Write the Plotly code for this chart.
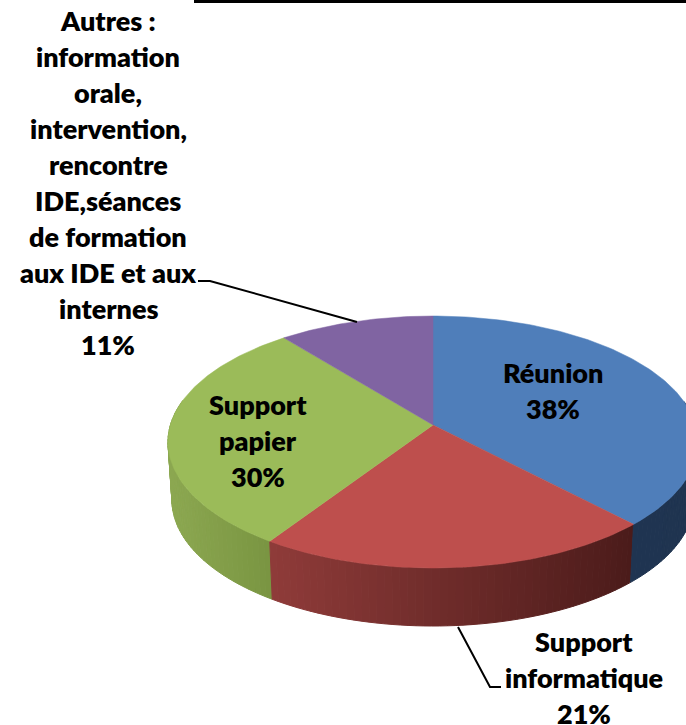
import math
import plotly.graph_objects as go

# ---- data ----
categories = ["Réunion", "Support informatique", "Support papier", "Autres"]
values = [37.9, 21.4, 29.9, 10.8]
top_colors = ["#4F7EBA", "#BE4F4D", "#9BBB59", "#8064A2"]
wall_left = ["#1F3654", "#8F3B39", "#8CA851", "#6A5488"]
wall_right = ["#1F3450", "#4B1B1A", "#77923F", "#6A5488"]

label_reunion = ["Réunion", "38%"]
label_papier = ["Support", "papier", "30%"]
label_info = ["Support", "informatique", "21%"]
label_autres = ["Autres :", "information", "orale,", "intervention,", "rencontre",
                "IDE,séances", "de formation", "aux IDE et aux", "internes", "11%"]

# ---- layout geometry (page pixels) ----
W, H = 686, 725
APEX_X, APEX_Y = 433, 425
R, A, K = 262.6, 123.7, -0.135      # perspective projection of the disc
DEPTH = 58
BOTTOM_SHRINK = 0.985
FONT = "Lato, Carlito, Calibri, sans-serif"
FS = 27
LINE = 36


def top_pt(deg):
    t = math.radians(deg)
    s, c = math.sin(t), -math.cos(t)
    d = 1 + K * c
    return APEX_X + R * s / d, APEX_Y + A * c / d


def bottom_pt(deg):
    x, y = top_pt(deg)
    return APEX_X + (x - APEX_X) * BOTTOM_SHRINK, y + DEPTH


def mix(a, b, f):
    pa = [int(a[i:i + 2], 16) for i in (1, 3, 5)]
    pb = [int(b[i:i + 2], 16) for i in (1, 3, 5)]
    return "rgb(%d,%d,%d)" % tuple(round(p + (q - p) * f) for p, q in zip(pa, pb))


fig = go.Figure()

# cumulative angular extents derived from the values
total = sum(values)
spans = []
acc = 0
for v in values:
    spans.append((acc / total * 360, (acc + v) / total * 360))
    acc += v

# side walls, drawn as thin strips so each carries its own shade
for i in [2, 1, 0]:
    a0, a1 = spans[i]
    steps = max(8, int((a1 - a0) / 1.5))
    xs_all = [top_pt(a0 + (a1 - a0) * k / steps)[0] for k in range(steps + 1)]
    xmin, xmax = min(xs_all), max(xs_all)
    for k in range(steps):
        t0 = a0 + (a1 - a0) * k / steps
        t1 = a0 + (a1 - a0) * (k + 1) / steps
        if -math.cos(math.radians((t0 + t1) / 2)) < -0.2:
            continue
        p = [top_pt(t0), top_pt(t1), bottom_pt(t1), bottom_pt(t0), top_pt(t0)]
        f = ((p[0][0] + p[1][0]) / 2 - xmin) / max(xmax - xmin, 1)
        col = mix(wall_left[i], wall_right[i], f)
        fig.add_trace(go.Scatter(
            x=[q[0] for q in p], y=[q[1] for q in p], mode="lines",
            fill="toself", fillcolor=col, line=dict(color=col, width=1),
            hoverinfo="skip", showlegend=False))

# top faces
for i, name in enumerate(categories):
    a0, a1 = spans[i]
    steps = max(8, int((a1 - a0) / 1.0))
    rim = [top_pt(a0 + (a1 - a0) * k / steps) for k in range(steps + 1)]
    pts = [(APEX_X, APEX_Y)] + rim + [(APEX_X, APEX_Y)]
    fig.add_trace(go.Scatter(
        x=[q[0] for q in pts], y=[q[1] for q in pts], mode="lines",
        fill="toself", fillcolor=top_colors[i],
        line=dict(color=top_colors[i], width=0.5),
        name=name, hoverinfo="name", showlegend=False))


def add_label(lines, cx, first_y):
    for n, txt in enumerate(lines):
        fig.add_annotation(x=cx, y=first_y + n * LINE, text=txt,
                           showarrow=False, xanchor="center", yanchor="middle",
                           font=dict(family=FONT, size=FS, color="black", weight=800))


add_label(label_reunion, 553, 372)
add_label(label_papier, 258, 404)
add_label(label_info, 584, 641)
add_label(label_autres, 108, 20)

line_style = dict(color="black", width=2)
shapes = [
    dict(type="rect", x0=194, x1=W, y0=0, y1=3, fillcolor="black", line_width=0, layer="above"),
    dict(type="path", path="M198,281 L210,281 L357,322", line=line_style),
    dict(type="path", path="M458,627 L490,687 L501,687", line=line_style),
]

fig.update_layout(
    width=W, height=H, autosize=False,
    margin=dict(l=0, r=0, t=0, b=0),
    paper_bgcolor="white", plot_bgcolor="white",
    showlegend=False, shapes=shapes,
    xaxis=dict(range=[0, W], visible=False, fixedrange=True),
    yaxis=dict(range=[H, 0], visible=False, fixedrange=True),
)

fig.write_html("out.html", config={"displayModeBar": False},
               post_script="document.body.style.margin='0';document.documentElement.style.overflow='hidden';")
